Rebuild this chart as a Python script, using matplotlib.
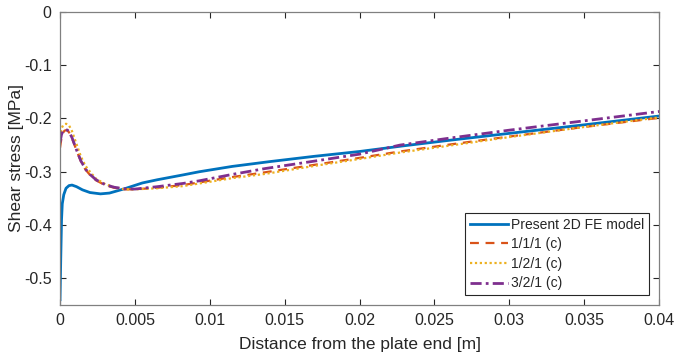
import numpy as np
from matplotlib import pyplot as plt

plt.rcParams['font.family'] = ['Liberation Sans', 'DejaVu Sans']

# distance from plate end [m] and shear stress [MPa]
x_fe = [0, 0.00005, 0.0001, 0.00015, 0.00025, 0.0004, 0.0006, 0.0008, 0.0011,
        0.0015, 0.002, 0.0027, 0.0033, 0.0043, 0.0055, 0.0065, 0.0082, 0.0093,
        0.0115, 0.014, 0.017, 0.02, 0.0229, 0.026, 0.03, 0.035, 0.04]
tau_fe = [-0.540, -0.460, -0.390, -0.360, -0.343, -0.331, -0.326, -0.325, -0.328,
          -0.334, -0.339, -0.3415, -0.340, -0.332, -0.321, -0.315, -0.306, -0.300,
          -0.290, -0.281, -0.271, -0.262, -0.2515, -0.241, -0.228, -0.212, -0.1955]

x_c = [0, 0.0001, 0.0002, 0.0003, 0.0004, 0.0005, 0.0006, 0.0008, 0.0011,
       0.0014, 0.0017, 0.002, 0.0024, 0.003, 0.0036, 0.0043, 0.005, 0.0065,
       0.0082, 0.0093, 0.0115, 0.0137, 0.017, 0.02, 0.0227, 0.026, 0.03,
       0.035, 0.04]
tau_111 = [-0.255, -0.236, -0.227, -0.223, -0.222, -0.223, -0.226, -0.237, -0.260,
           -0.281, -0.296, -0.306, -0.316, -0.325, -0.330, -0.333, -0.333, -0.330,
           -0.325, -0.320, -0.310, -0.301, -0.287, -0.274, -0.262, -0.249, -0.234,
           -0.216, -0.199]
tau_121 = [-0.235, -0.219, -0.213, -0.211, -0.210, -0.211, -0.213, -0.224, -0.248,
           -0.272, -0.289, -0.300, -0.313, -0.323, -0.329, -0.333, -0.333, -0.331,
           -0.327, -0.322, -0.312, -0.304, -0.289, -0.276, -0.264, -0.251, -0.235,
           -0.216, -0.198]
tau_321 = [-0.245, -0.230, -0.224, -0.2215, -0.221, -0.222, -0.225, -0.236, -0.259,
           -0.280, -0.295, -0.305, -0.315, -0.324, -0.329, -0.332, -0.3325, -0.328,
           -0.322, -0.317, -0.305, -0.294, -0.280, -0.267, -0.250, -0.237, -0.222,
           -0.2045, -0.187]

xticks = [0, 0.005, 0.01, 0.015, 0.02, 0.025, 0.03, 0.035, 0.04]
xticklabels = ['0', '0.005', '0.01', '0.015', '0.02', '0.025', '0.03', '0.035', '0.04']
yticks = [-0.5, -0.4, -0.3, -0.2, -0.1, 0]
yticklabels = ['-0.5', '-0.4', '-0.3', '-0.2', '-0.1', '0']


def main():
    fig = plt.figure(figsize=(6.76, 3.58), dpi=100)
    ax = fig.add_axes([0.0888, 0.148, 0.8862, 0.819])

    ax.plot(x_fe, tau_fe, color='#0072BD', lw=2.0, ls='-', label='Present 2D FE model')
    ax.plot(x_c, tau_111, color='#D95319', lw=1.6, ls=(0, (4, 3)), label='1/1/1 (c)')
    ax.plot(x_c, tau_121, color='#EDB120', lw=1.6, ls=(0, (1, 1.2)), label='1/2/1 (c)')
    ax.plot(x_c, tau_321, color='#7E2F8E', lw=2.0, ls=(0, (4, 1.5, 1, 1.5)), label='3/2/1 (c)')

    ax.set_xlim(0, 0.04)
    ax.set_ylim(-0.55, 0)
    ax.set_xticks(xticks)
    ax.set_xticklabels(xticklabels)
    ax.set_yticks(yticks)
    ax.set_yticklabels(yticklabels)
    ax.tick_params(direction='in', top=True, right=True, length=4, width=0.8,
                   colors='#262626', labelsize=11.5, pad=6)
    for s in ax.spines.values():
        s.set_color('#808080')
        s.set_linewidth(0.9)

    ax.set_xlabel('Distance from the plate end [m]', fontsize=12.5, color='#262626', labelpad=6)
    ax.set_ylabel('Shear stress [MPa]', fontsize=12.5, color='#262626', labelpad=0)

    leg = ax.legend(loc='lower right', fontsize=10, handlelength=2.8, handletextpad=0.2,
                    labelspacing=0.4, borderpad=0.35, borderaxespad=0.7, fancybox=False,
                    framealpha=1, edgecolor='#262626')
    leg.get_frame().set_linewidth(0.8)
    for t in leg.get_texts():
        t.set_color('#262626')

    fig.savefig('out.png', dpi=100)


main()
